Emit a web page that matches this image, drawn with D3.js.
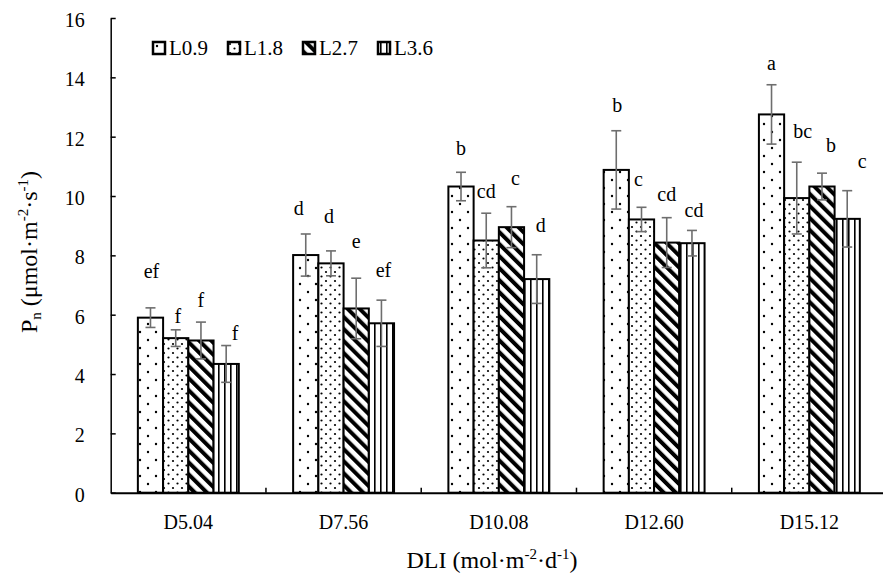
<!DOCTYPE html>
<html>
<head>
<meta charset="utf-8">
<script src="https://cdn.jsdelivr.net/npm/d3@7"></script>
<style>
  body { margin: 0; background: #fff; }
  svg { display: block; }
</style>
</head>
<body>
<svg width="883" height="579"></svg>
<script>
const categories = ["D5.04", "D7.56", "D10.08", "D12.60", "D15.12"];
const series = ["L0.9", "L1.8", "L2.7", "L3.6"];

// mean Pn per DLI level
const pnL09 = [5.90, 8.01, 10.32, 10.88, 12.75];
const pnL18 = [5.21, 7.73, 8.50, 9.21, 9.93];
const pnL27 = [5.13, 6.21, 8.95, 8.43, 10.32];
const pnL36 = [4.34, 5.71, 7.20, 8.41, 9.23];

// error bars (+/-)
const errL09 = [0.33, 0.71, 0.48, 1.32, 1.00];
const errL18 = [0.28, 0.42, 0.92, 0.41, 1.21];
const errL27 = [0.62, 1.02, 0.69, 0.84, 0.45];
const errL36 = [0.62, 0.78, 0.82, 0.43, 0.95];

// significance letters
const sigL09 = ["ef", "d", "b", "b", "a"];
const sigL18 = ["f", "d", "cd", "c", "bc"];
const sigL27 = ["f", "e", "c", "cd", "b"];
const sigL36 = ["f", "ef", "d", "cd", "c"];

// where each letter sits (Pn units) as placed on the original
const sigAtL09 = [7.24, 9.36, 11.38, 12.84, 14.25];
const sigAtL18 = [5.72, 9.10, 9.92, 10.34, 11.94];
const sigAtL27 = [6.27, 8.24, 10.37, 9.84, 11.49];
const sigAtL36 = [5.15, 7.28, 8.80, 9.30, 10.93];

const yTicks = [0, 2, 4, 6, 8, 10, 12, 14, 16];

const means = [pnL09, pnL18, pnL27, pnL36];
const errs = [errL09, errL18, errL27, errL36];
const sigs = [sigL09, sigL18, sigL27, sigL36];
const sigAt = [sigAtL09, sigAtL18, sigAtL27, sigAtL36];
// small sideways nudges of letters, px
const sigDx = [[1, -7, 0, 1, 0], [2, -2, 0, -3, 6], [0, 0, 4, 0, 9], [9, 2, 4, 2, 15]];

const serif = "'Liberation Serif', 'Times New Roman'";
const svg = d3.select("svg");
const plotLeft = 110.7, plotRight = 887, plotTop = 18, plotBottom = 492.7;

const rows = [];
categories.forEach((c, i) => {
  series.forEach((s, j) => {
    rows.push({cat: c, ser: s, j: j, i: i, v: means[j][i], e: errs[j][i],
               sig: sigs[j][i], at: sigAt[j][i], dx: sigDx[j][i]});
  });
});

const xCat = d3.scaleBand().domain(categories).range([plotLeft, plotRight]);
const x0 = d3.scaleBand().domain(categories).range([plotLeft, plotRight])
    .paddingInner(0.35).paddingOuter(0.175);
const x1 = d3.scaleBand().domain(series).range([0, x0.bandwidth()]);
const y = d3.scaleLinear().domain([0, 16]).range([plotBottom, plotTop]);

// patterns
const defs = svg.append("defs");
const p0 = defs.append("pattern").attr("id", "pat0").attr("patternUnits", "userSpaceOnUse")
    .attr("width", 16).attr("height", 16);
p0.append("rect").attr("width", 16).attr("height", 16).attr("fill", "#fff");
p0.append("circle").attr("cx", 4).attr("cy", 4).attr("r", 1.2).attr("fill", "#000");
p0.append("circle").attr("cx", 12).attr("cy", 12).attr("r", 1.2).attr("fill", "#000");

const p1 = defs.append("pattern").attr("id", "pat1").attr("patternUnits", "userSpaceOnUse")
    .attr("width", 9).attr("height", 9);
p1.append("rect").attr("width", 9).attr("height", 9).attr("fill", "#fff");
p1.append("circle").attr("cx", 2).attr("cy", 2).attr("r", 1.1).attr("fill", "#000");
p1.append("circle").attr("cx", 6.5).attr("cy", 6.5).attr("r", 1.1).attr("fill", "#000");

const p2 = defs.append("pattern").attr("id", "pat2").attr("patternUnits", "userSpaceOnUse")
    .attr("width", 8.5).attr("height", 8.5).attr("patternTransform", "rotate(-45)");
p2.append("rect").attr("width", 8.5).attr("height", 8.5).attr("fill", "#fff");
p2.append("rect").attr("width", 4).attr("height", 8.5).attr("fill", "#000");

const p3 = defs.append("pattern").attr("id", "pat3").attr("patternUnits", "userSpaceOnUse")
    .attr("width", 6).attr("height", 6);
p3.append("rect").attr("width", 6).attr("height", 6).attr("fill", "#fff");
p3.append("rect").attr("x", 2).attr("width", 1.6).attr("height", 6).attr("fill", "#000");

// y axis, ticks inside
const yAxis = svg.append("g")
    .attr("transform", `translate(${plotLeft},0)`)
    .call(d3.axisLeft(y).tickValues(yTicks).tickSizeInner(-5).tickSizeOuter(0).tickPadding(26));
yAxis.select(".domain").attr("stroke", "#000").attr("stroke-width", 1.5);
yAxis.selectAll(".tick line").attr("stroke", "#000").attr("stroke-width", 1.5);
yAxis.selectAll(".tick text").attr("font-size", 20).attr("dy", "0.42em");

// bars
const bars = svg.append("g");
bars.selectAll("rect").data(rows).enter().append("rect")
    .attr("x", d => x0(d.cat) + x1(d.ser))
    .attr("y", d => y(d.v))
    .attr("width", x1.bandwidth())
    .attr("height", d => y(0) - y(d.v))
    .attr("fill", d => `url(#pat${d.j})`)
    .attr("stroke", "#000")
    .attr("stroke-width", 2);

// error bars
const eb = svg.append("g").attr("stroke", "#6e6e6e").attr("stroke-width", 1.6);
const cx = d => x0(d.cat) + x1(d.ser) + x1.bandwidth() / 2;
eb.selectAll("line.v").data(rows).enter().append("line").attr("class", "v")
    .attr("x1", cx).attr("x2", cx)
    .attr("y1", d => y(d.v + d.e)).attr("y2", d => y(d.v - d.e));
eb.selectAll("line.t").data(rows).enter().append("line").attr("class", "t")
    .attr("x1", d => cx(d) - 5).attr("x2", d => cx(d) + 5)
    .attr("y1", d => y(d.v + d.e)).attr("y2", d => y(d.v + d.e));
eb.selectAll("line.b").data(rows).enter().append("line").attr("class", "b")
    .attr("x1", d => cx(d) - 5).attr("x2", d => cx(d) + 5)
    .attr("y1", d => y(d.v - d.e)).attr("y2", d => y(d.v - d.e));

// letters
svg.append("g").selectAll("text").data(rows).enter().append("text")
    .attr("x", d => cx(d) + d.dx)
    .attr("y", d => y(d.at))
    .attr("text-anchor", "middle")
    .attr("font-size", 20)
    .text(d => d.sig);

// x axis
const xAxis = svg.append("g")
    .attr("transform", `translate(0,${plotBottom})`)
    .call(d3.axisBottom(xCat).tickSize(0).tickPadding(22));
xAxis.select(".domain").attr("stroke", "#000").attr("stroke-width", 2);
xAxis.selectAll(".tick text").attr("font-size", 20);
svg.append("g").selectAll("line").data(categories).enter().append("line")
    .attr("x1", d => xCat(d) + xCat.bandwidth()).attr("x2", d => xCat(d) + xCat.bandwidth())
    .attr("y1", plotBottom).attr("y2", plotBottom - 5)
    .attr("stroke", "#000").attr("stroke-width", 1.5);

// axis titles
const xt = svg.append("text").attr("x", 492).attr("y", 568).attr("text-anchor", "middle").attr("font-size", 24);
xt.append("tspan").text("DLI (mol·m");
xt.append("tspan").attr("font-size", 15).attr("dy", -9).text("-2");
xt.append("tspan").attr("dy", 9).text("·d");
xt.append("tspan").attr("font-size", 15).attr("dy", -9).text("-1");
xt.append("tspan").attr("dy", 9).text(")");

const yt = svg.append("text").attr("transform", "translate(37,252) rotate(-90)")
    .attr("text-anchor", "middle").attr("font-size", 24);
yt.append("tspan").text("P");
yt.append("tspan").attr("font-size", 15).attr("dy", 4).text("n");
yt.append("tspan").attr("dy", -4).text(" (μmol·m");
yt.append("tspan").attr("font-size", 15).attr("dy", -9).text("-2");
yt.append("tspan").attr("dy", 9).text("·s");
yt.append("tspan").attr("font-size", 15).attr("dy", -9).text("-1");
yt.append("tspan").attr("dy", 9).text(")");

// legend
const legend = svg.append("g").selectAll("g").data(series).enter().append("g")
    .attr("transform", (d, i) => `translate(${153 + i * 75},42)`);
legend.append("rect").attr("width", 12).attr("height", 12)
    .attr("fill", (d, i) => `url(#pat${i})`)
    .attr("stroke", "#000").attr("stroke-width", 2.5);
legend.append("text").attr("x", 16).attr("y", 13).attr("font-size", 21).text(d => d);

svg.selectAll("text").style("font-family", serif).style("fill", "#000");
</script>
</body>
</html>
